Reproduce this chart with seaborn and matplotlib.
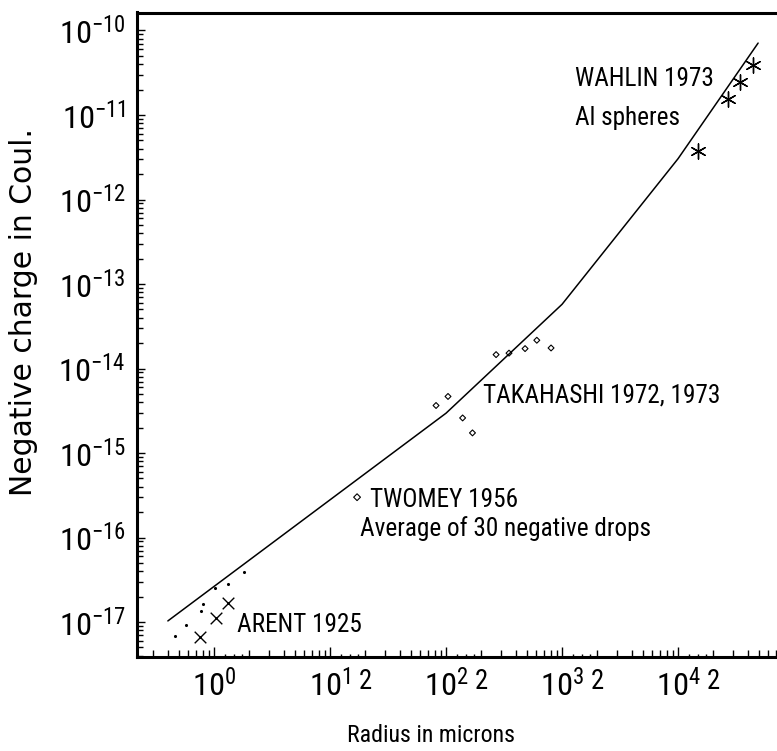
import numpy as np
import pandas as pd
import matplotlib
matplotlib.use("Agg")
import matplotlib.pyplot as plt
import matplotlib.ticker as mticker
from matplotlib import font_manager as fm
import seaborn as sns

# ---------------- data ----------------
line_radius = [0.40, 100, 1000, 1.0e4, 4.9e4]
line_charge = [1.03e-17, 2.96e-15, 5.75e-14, 3.04e-12, 7.1e-11]

dots_radius = [0.46, 0.57, 0.77, 0.81, 1.02, 1.32, 1.82]
dots_charge = [6.9e-18, 9.1e-18, 1.35e-17, 1.63e-17, 2.55e-17, 2.81e-17, 3.93e-17]

arent_radius = [0.75, 1.04, 1.33]
arent_charge = [6.6e-18, 1.12e-17, 1.69e-17]

twomey_radius = [17.1]
twomey_charge = [3.0e-16]

takahashi_radius = [82, 104, 139, 169, 270, 349, 480, 606, 804]
takahashi_charge = [3.65e-15, 4.67e-15, 2.6e-15, 1.73e-15, 1.46e-14,
                    1.52e-14, 1.72e-14, 2.16e-14, 1.75e-14]

wahlin_radius = [14960, 26800, 34200, 44600]
wahlin_charge = [3.74e-12, 1.56e-11, 2.45e-11, 3.86e-11]

annotations = ["WAHLIN 1973", "Al spheres", "TAKAHASHI 1972, 1973",
               "TWOMEY 1956", "Average of 30 negative drops", "ARENT 1925"]
x_label = "Radius in microns"
y_label = "Negative charge in Coul."

# ---------------- pick a narrow font if one is installed ----------------
narrow_family, narrow_stretch = "Liberation Sans", "normal"
_cands = []
for f in fm.fontManager.ttflist:
    st = f.stretch if isinstance(f.stretch, str) else "normal"
    nm = f.name
    if "Mono" in nm or "Serif" in nm or "CJK" in nm:
        continue
    if "Narrow" in nm or "Condensed" in nm or st in ("condensed", "semi-condensed"):
        if f.style == "normal" and f.weight in (400, "normal", "regular", "book"):
            _cands.append((nm, st))
_pref = ["Liberation Sans Narrow", "Roboto Condensed", "DejaVu Sans"]
_cands.sort(key=lambda c: _pref.index(c[0]) if c[0] in _pref else 99)
if _cands:
    narrow_family, narrow_stretch = _cands[0]

if narrow_stretch != "normal":
    math_pattern = f"{narrow_family}:stretch={narrow_stretch}"
else:
    math_pattern = narrow_family

# ---------------- style ----------------
sns.set_style("white")
plt.rcParams["font.family"] = [narrow_family, "DejaVu Sans"]
plt.rcParams["font.stretch"] = narrow_stretch
plt.rcParams["mathtext.fontset"] = "custom"
plt.rcParams["mathtext.rm"] = math_pattern
plt.rcParams["mathtext.it"] = math_pattern
plt.rcParams["mathtext.bf"] = math_pattern
plt.rcParams["mathtext.default"] = "rm"
for k in ["text.color", "axes.labelcolor", "xtick.color", "ytick.color", "axes.edgecolor"]:
    plt.rcParams[k] = "black"

fig = plt.figure(figsize=(7.77, 7.51), dpi=100)
ax = fig.add_axes([137 / 777, 94 / 751, 640 / 777, 644.5 / 751])
ax.set_xscale("log")
ax.set_yscale("log")

renderer = fig.canvas.get_renderer()


def width_at20(txt):
    t = fig.text(0, 0, txt, fontsize=20)
    w = t.get_window_extent(renderer).width
    t.remove()
    return w


# base size fitted to "TAKAHASHI 1972, 1973" (~244 px in the reference)
FIT = min(20 * 244 / width_at20(annotations[2]), 21)
ANN = FIT * 0.97
TICK = FIT * 1.25
XLAB = FIT * 0.92

# ---------------- marks ----------------
sns.lineplot(x=line_radius, y=line_charge, ax=ax, color="black",
             linewidth=1.1, sort=False, estimator=None)
sns.scatterplot(x=dots_radius, y=dots_charge, ax=ax, color="black",
                marker="o", s=5, linewidth=0)
sns.scatterplot(x=arent_radius, y=arent_charge, ax=ax, color="black",
                marker="x", s=70, linewidth=1.0)
sns.scatterplot(x=takahashi_radius, y=takahashi_charge, ax=ax,
                marker="D", s=9, facecolors="none", edgecolors="black",
                linewidth=0.8)
sns.scatterplot(x=twomey_radius, y=twomey_charge, ax=ax,
                marker="D", s=12, facecolors="none", edgecolors="black",
                linewidth=0.8)
sns.scatterplot(x=wahlin_radius, y=wahlin_charge, ax=ax, color="black",
                marker=(6, 2, 0), s=120, linewidth=1.0)

# ---------------- axes ----------------
ax.set_xlim(10 ** -0.664, 10 ** 4.853)
ax.set_ylim(10 ** -17.414, 10 ** -9.787)

for side in ["left", "top", "bottom"]:
    ax.spines[side].set_visible(True)
    ax.spines[side].set_linewidth(2.2)
    ax.spines[side].set_color("black")
ax.spines["right"].set_visible(False)


class InViewLog(mticker.LogLocator):
    """Log locator that only returns ticks inside the view limits."""
    def __call__(self):
        lo, hi = sorted(self.axis.get_view_interval())
        return [v for v in super().__call__() if lo * 0.999 <= v <= hi * 1.001]


ax.xaxis.set_major_locator(InViewLog(base=10, numticks=30))
ax.xaxis.set_minor_locator(InViewLog(base=10, subs=np.arange(2, 10), numticks=100))
ax.xaxis.set_major_formatter(mticker.LogFormatterSciNotation())


def minor_two(v, pos):
    if v < 15:
        return ""
    m = v / 10 ** np.floor(np.log10(v) + 1e-9)
    return "2" if abs(m - 2) < 1e-6 else ""


ax.xaxis.set_minor_formatter(mticker.FuncFormatter(minor_two))

ax.yaxis.set_major_locator(InViewLog(base=10, numticks=30))
ax.yaxis.set_minor_locator(InViewLog(base=10, subs=np.arange(2, 10), numticks=100))
ax.yaxis.set_major_formatter(mticker.LogFormatterSciNotation())
ax.yaxis.set_minor_formatter(mticker.NullFormatter())

ax.tick_params(axis="x", which="major", direction="in", length=7, width=1.0,
               labelsize=TICK, pad=8, top=False, bottom=True)
ax.tick_params(axis="x", which="minor", direction="in", length=5, width=1.0,
               labelsize=TICK * 0.82, pad=8, top=False, bottom=True)
ax.tick_params(axis="y", which="major", direction="in", length=6, width=1.0,
               labelsize=TICK, pad=8, left=True, right=False)
ax.tick_params(axis="y", which="minor", direction="in", length=4.5, width=1.0,
               left=True, right=False)

# extra short ticks at 1.25, 1.5, 1.75 of each decade
ax2 = ax.twiny()
ax2.set_xscale("log")
ax2.set_xlim(ax.get_xlim())
ax2.xaxis.set_ticks_position("bottom")
ax2.xaxis.set_major_locator(InViewLog(base=10, subs=[1.25, 1.5, 1.75], numticks=100))
ax2.xaxis.set_minor_locator(mticker.NullLocator())
ax2.xaxis.set_major_formatter(mticker.NullFormatter())
ax2.tick_params(axis="x", which="major", direction="in", length=2.2, width=1.0)
for s in ax2.spines.values():
    s.set_visible(False)

# ---------------- labels ----------------
ax.set_xlabel(x_label, fontsize=XLAB, va="center")
ax.xaxis.set_label_coords((431 - 137) / 640, (657 - 735) / 644.5)
ax.set_ylabel(y_label, fontsize=21.5, family="DejaVu Sans", stretch="normal",
              va="center")
ax.yaxis.set_label_coords((24 - 137) / 640, (657 - 312) / 644.5)

# annotation anchors (left, baseline) in reference pixels
ann_pos = [(575, 86), (575, 125), (483, 403), (370, 507), (360, 536), (237, 632)]
for txt, (px, py) in zip(annotations, ann_pos):
    ax.text((px - 137) / 640, (657 - py) / 644.5, txt, transform=ax.transAxes,
            ha="left", va="baseline", fontsize=ANN)

fig.savefig("out.png", dpi=100)
